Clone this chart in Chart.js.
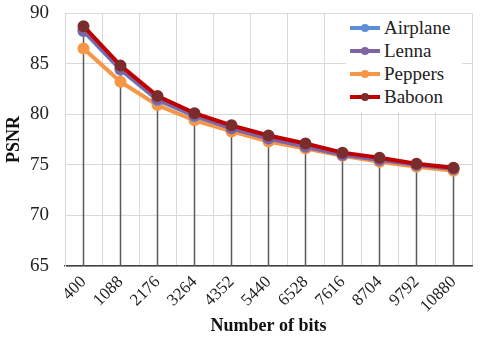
<!DOCTYPE html>
<html>
<head>
<meta charset="utf-8">
<script src="https://cdn.jsdelivr.net/npm/chart.js@4"></script>
<style>
  body { margin: 0; background: #fff; }
  #wrap { position: relative; width: 480px; height: 340px; }
  #legend {
    position: absolute; left: 346px; top: 14px; width: 112px;
    background: #fff; padding: 2px 0 4px 4px;
    font-family: 'Liberation Serif', 'Times New Roman', serif; font-size: 19px; color: #222;
  }
  .item { display: flex; align-items: center; height: 23px; }
  .swatch { position: relative; width: 30px; height: 4px; margin-right: 4px; }
  .swatch span { position: absolute; left: 11px; top: -2px; width: 8px; height: 8px; border-radius: 50%; }
</style>
</head>
<body>
<div id="wrap">
  <canvas id="psnrChart" width="480" height="340"></canvas>
  <div id="legend"></div>
</div>
<script>
// Data
var bits = ['400', '1088', '2176', '3264', '4352', '5440', '6528', '7616', '8704', '9792', '10880'];
var airplane = [88.2, 84.4, 81.4, 79.8, 78.6, 77.6, 76.8, 76.0, 75.5, 75.0, 74.6];
var lenna    = [88.3, 84.5, 81.5, 79.9, 78.6, 77.6, 76.8, 76.0, 75.5, 75.0, 74.6];
var peppers  = [86.5, 83.2, 80.9, 79.4, 78.3, 77.3, 76.6, 75.9, 75.3, 74.8, 74.4];
var baboon   = [88.7, 84.8, 81.8, 80.1, 78.9, 77.9, 77.1, 76.2, 75.7, 75.1, 74.7];

var serif = "'Liberation Serif', 'Times New Roman', serif";

function series(label, values, color, pointColor, order) {
    return {
        label: label,
        data: values,
        borderColor: color,
        backgroundColor: pointColor,
        pointBackgroundColor: pointColor,
        pointBorderColor: pointColor,
        borderWidth: 4,
        pointRadius: 4,
        tension: 0,
        order: order
    };
}

var datasets = [
    series('Airplane', airplane, '#5B8ED6', '#5B8ED6', 2),
    series('Lenna', lenna, '#8064A2', '#8064A2', 1),
    series('Peppers', peppers, '#F79646', '#F79646', 3),
    series('Baboon', baboon, '#C00000', '#7B2C2C', 0)
];

// vertical drop lines from the top point of each category to the x axis
var dropLines = {
    id: 'dropLines',
    beforeDatasetsDraw: function(chart) {
        var ctx = chart.ctx;
        var x = chart.scales.x, y = chart.scales.y;
        ctx.save();
        ctx.strokeStyle = '#595959';
        ctx.lineWidth = 1.5;
        bits.forEach(function(b, i) {
            var top = Math.max(airplane[i], lenna[i], peppers[i], baboon[i]);
            var px = x.getPixelForValue(i);
            ctx.beginPath();
            ctx.moveTo(px, y.getPixelForValue(top));
            ctx.lineTo(px, chart.chartArea.bottom);
            ctx.stroke();
        });
        ctx.restore();
    }
};

var ctx = document.getElementById('psnrChart').getContext('2d');
var psnrChart = new Chart(ctx, {
    type: 'line',
    data: { labels: bits, datasets: datasets },
    options: {
        responsive: false,
        animation: false,
        layout: { padding: { left: 4, right: 7, top: 13, bottom: 3 } },
        plugins: {
            legend: { display: false },
            tooltip: { enabled: false }
        },
        scales: {
            x: {
                offset: true,
                grid: { offset: true, color: '#d9d9d9', drawTicks: false },
                border: { color: '#404040', width: 1.5 },
                ticks: {
                    color: '#222', padding: 6,
                    minRotation: 45, maxRotation: 45,
                    font: { family: serif, size: 17 }
                },
                title: {
                    display: true, text: 'Number of bits', color: '#111',
                    font: { family: serif, size: 18, weight: 'bold' },
                    padding: { top: 0, bottom: 0 }
                },
                afterFit: function(s) { s.height = 71; }
            },
            y: {
                min: 65, max: 90,
                grid: { color: '#d9d9d9', drawTicks: false },
                border: { color: '#d9d9d9' },
                ticks: {
                    stepSize: 5, color: '#222', padding: 16,
                    font: { family: serif, size: 19 }
                },
                title: {
                    display: true, text: 'PSNR', color: '#111',
                    font: { family: serif, size: 18, weight: 'bold' },
                    padding: { top: 0, bottom: 0 }
                },
                afterFit: function(s) {
                    s.width = 61;
                    s.paddingTop = 0;
                    s.paddingBottom = 0;
                }
            }
        }
    },
    plugins: [dropLines]
});

// legend drawn as html over the plot area
var legend = document.getElementById('legend');
datasets.forEach(function(d) {
    var item = document.createElement('div');
    item.className = 'item';
    item.innerHTML = '<div class="swatch" style="background:' + d.borderColor + '"><span style="background:' +
        d.pointBackgroundColor + '"></span></div>' + d.label;
    legend.appendChild(item);
});
</script>
</body>
</html>
